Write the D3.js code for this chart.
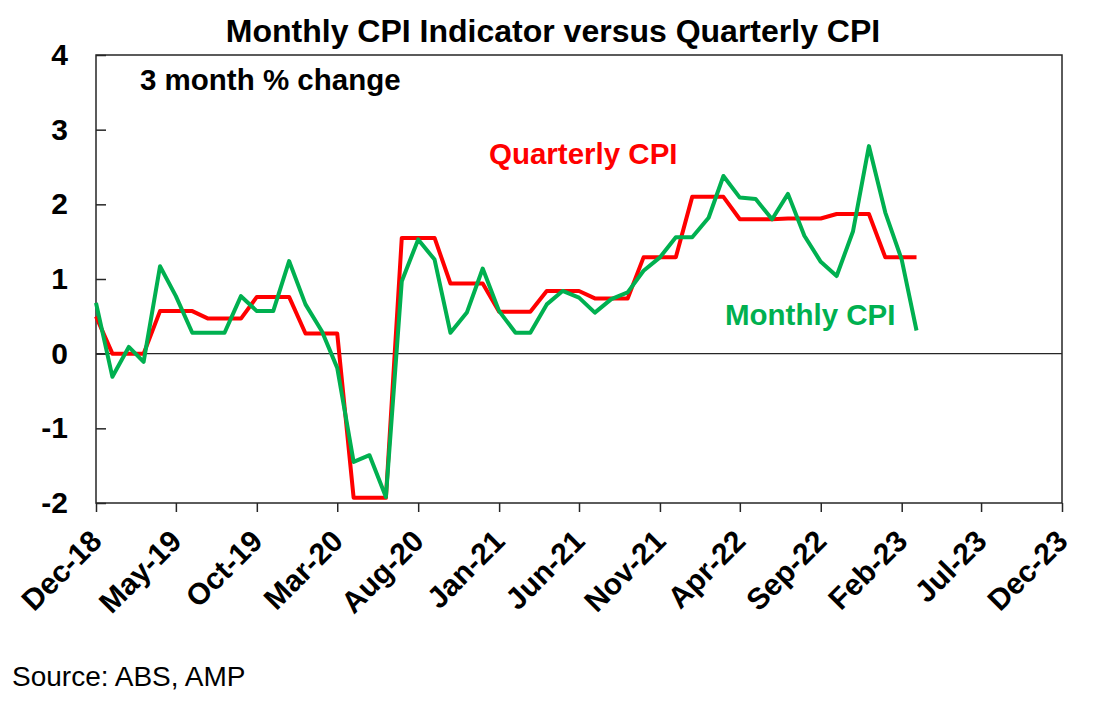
<!DOCTYPE html>
<html>
<head>
<meta charset="utf-8">
<title>Monthly CPI Indicator versus Quarterly CPI</title>
<script src="https://cdn.jsdelivr.net/npm/d3@7"></script>
<style>
    body { margin: 0; background: #fff; }
    svg text { font-family: Arial, "Liberation Sans", sans-serif; fill: #000; }
</style>
</head>
<body>
<svg id="cpi-svg" width="1107" height="707"></svg>
<script>
/*
    cpi chart
*/

// x axis tick labels, every five months
const tickLabels = ["Dec-18", "May-19", "Oct-19", "Mar-20", "Aug-20", "Jan-21", "Jun-21",
    "Nov-21", "Apr-22", "Sep-22", "Feb-23", "Jul-23", "Dec-23"];
const yTicks = [-2, -1, 0, 1, 2, 3, 4];

// first data month, then one value per month
const firstMonth = "Dec-18";

// monthly CPI indicator, 3 month % change
const monthlyCpi = [0.68,
    -0.31, 0.09, -0.11, 1.17, 0.77, 0.28, 0.28, 0.28, 0.77, 0.57, 0.57, 1.24,
    0.66, 0.30, -0.19, -1.45, -1.36, -1.92, 0.97, 1.53, 1.26, 0.28, 0.55, 1.14,
    0.57, 0.28, 0.28, 0.66, 0.84, 0.75, 0.55, 0.73, 0.82, 1.11, 1.29, 1.56,
    1.56, 1.82, 2.38, 2.09, 2.07, 1.80, 2.14, 1.58, 1.23, 1.04, 1.64, 2.78,
    1.89, 1.26, 0.31];

// quarterly CPI, held for each month of the quarter
const quarterlyCpi = [0.50,
    0.00, 0.00, 0.00, 0.57, 0.57, 0.57, 0.47, 0.47, 0.47, 0.76, 0.76, 0.76,
    0.27, 0.27, 0.27, -1.93, -1.93, -1.93, 1.55, 1.55, 1.55, 0.94, 0.94, 0.94,
    0.56, 0.56, 0.56, 0.84, 0.84, 0.84, 0.74, 0.74, 0.74, 1.29, 1.29, 1.29,
    2.10, 2.10, 2.10, 1.80, 1.80, 1.80, 1.81, 1.81, 1.81, 1.87, 1.87, 1.87,
    1.29, 1.29, 1.29];

const colours = { monthly: "#00b050", quarterly: "#ff0000", axis: "#262626" };
const fontFamily = "Arial, 'Liberation Sans', sans-serif";

const parseMonth = d3.timeParse("%b-%y");
const start = parseMonth(firstMonth);
const months = monthlyCpi.map((d, i) => d3.timeMonth.offset(start, i));

const margin = { left: 96, right: 1062, top: 55, bottom: 503 };

const svg = d3.select("#cpi-svg");

const x = d3
    .scaleTime()
    .domain([parseMonth(tickLabels[0]), parseMonth(tickLabels[tickLabels.length - 1])])
    .range([margin.left, margin.right]);

const y = d3
    .scaleLinear()
    .domain([d3.min(yTicks), d3.max(yTicks)])
    .range([margin.bottom, margin.top]);

// Title
svg.append("text")
    .attr("x", 553)
    .attr("y", 42)
    .attr("text-anchor", "middle")
    .attr("font-size", "32px")
    .attr("font-weight", "bold")
    .text("Monthly CPI Indicator versus Quarterly CPI");

// Plot frame
svg.append("rect")
    .attr("x", margin.left)
    .attr("y", margin.top)
    .attr("width", margin.right - margin.left)
    .attr("height", margin.bottom - margin.top)
    .attr("fill", "none")
    .attr("stroke", colours.axis)
    .attr("stroke-width", 1.5);

// Zero line
svg.append("line")
    .attr("x1", margin.left)
    .attr("x2", margin.right)
    .attr("y1", y(0))
    .attr("y2", y(0))
    .attr("stroke", colours.axis)
    .attr("stroke-width", 1.2);

// y axis, ticks inside
const yAxis = svg
    .append("g")
    .attr("transform", `translate(${margin.left},0)`)
    .call(
        d3
            .axisLeft(y)
            .tickValues(yTicks)
            .tickSize(-10)
            .tickPadding(28)
            .tickSizeOuter(0)
            .tickFormat(d => String(d))
    );
yAxis.select(".domain").remove();
yAxis.selectAll(".tick line").attr("stroke", colours.axis).attr("stroke-width", 1.5);
yAxis
    .selectAll(".tick text")
    .attr("font-size", "30px")
    .attr("font-weight", "bold")
    .attr("font-family", fontFamily)
    .attr("fill", "#000");

// x axis, ticks outside, slanted labels
const xAxis = svg
    .append("g")
    .attr("transform", `translate(0,${margin.bottom})`)
    .call(
        d3
            .axisBottom(x)
            .tickValues(tickLabels.map(parseMonth))
            .tickSize(9)
            .tickSizeOuter(0)
            .tickFormat(d3.timeFormat("%b-%y"))
    );
xAxis.select(".domain").remove();
xAxis.selectAll(".tick line").attr("stroke", colours.axis).attr("stroke-width", 1.5);
xAxis
    .selectAll(".tick text")
    .attr("font-size", "30px")
    .attr("font-weight", "bold")
    .attr("font-family", fontFamily)
    .attr("fill", "#000")
    .attr("text-anchor", "end")
    .attr("dy", null)
    .attr("y", null)
    .attr("transform", "translate(7,40) rotate(-45)");

// Lines
const line = d3
    .line()
    .x((d, i) => x(months[i]))
    .y(d => y(d));

svg.append("path")
    .datum(quarterlyCpi)
    .attr("fill", "none")
    .attr("stroke", colours.quarterly)
    .attr("stroke-width", 4)
    .attr("stroke-linejoin", "round")
    .attr("d", line);

svg.append("path")
    .datum(monthlyCpi)
    .attr("fill", "none")
    .attr("stroke", colours.monthly)
    .attr("stroke-width", 4)
    .attr("stroke-linejoin", "round")
    .attr("d", line);

// Annotations
svg.append("text")
    .attr("x", 140)
    .attr("y", 90)
    .attr("font-size", "29.5px")
    .attr("font-weight", "bold")
    .text("3 month % change");

svg.append("text")
    .attr("x", 489)
    .attr("y", 164)
    .attr("font-size", "29.5px")
    .attr("font-weight", "bold")
    .style("fill", colours.quarterly)
    .text("Quarterly CPI");

svg.append("text")
    .attr("x", 725)
    .attr("y", 325)
    .attr("font-size", "29.5px")
    .attr("font-weight", "bold")
    .style("fill", colours.monthly)
    .text("Monthly CPI");

// Source
svg.append("text")
    .attr("x", 12)
    .attr("y", 686)
    .attr("font-size", "28px")
    .text("Source: ABS, AMP");
</script>
</body>
</html>
